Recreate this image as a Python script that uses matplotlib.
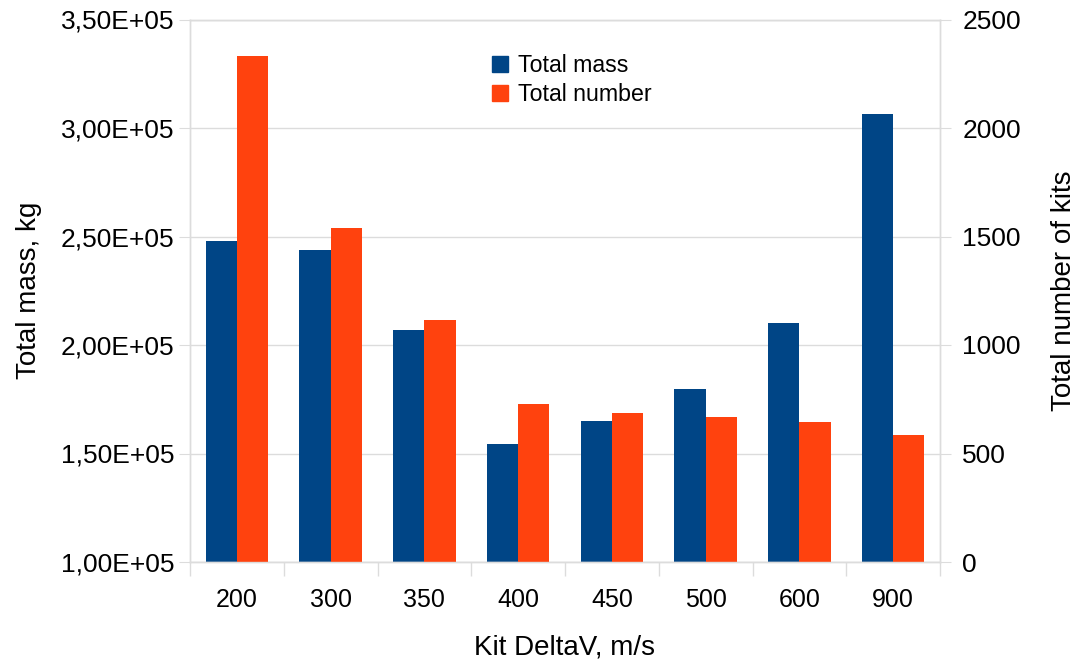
import numpy as np
import matplotlib
matplotlib.use("Agg")
import matplotlib.pyplot as plt
from matplotlib.ticker import FuncFormatter, FixedLocator, MultipleLocator
from matplotlib.patches import Patch

# Kit delta-V categories and totals per category
categories = ["200", "300", "350", "400", "450", "500", "600", "900"]
total_mass = [247800, 243600, 206800, 154600, 164900, 179900, 210300, 306300]
total_number = [2331, 1538, 1115, 727, 685, 668, 644, 587]

BLUE = "#004586"
ORANGE = "#ff420e"
GRID = "#dcdcdc"

plt.rcParams["font.family"] = "Liberation Sans"

fig = plt.figure(figsize=(10.77, 6.64), dpi=100)
ax = fig.add_axes([190 / 1077, 102 / 664, 750 / 1077, 542.5 / 664])
ax2 = ax.twinx()

x = np.arange(len(categories))
w = 1 / 3
ax.bar(x - w / 2, total_mass, width=w, color=BLUE, zorder=2)
ax2.bar(x + w / 2, total_number, width=w, color=ORANGE, zorder=2)

ax.set_xlim(-0.5, len(categories) - 0.5)
ax.set_ylim(1.0e5, 3.5e5)
ax2.set_ylim(0, 2500)

ax.yaxis.set_major_locator(MultipleLocator(0.5e5))
ax.yaxis.set_major_formatter(FuncFormatter(lambda v, p: f"{v:.2E}".replace(".", ",")))
ax2.yaxis.set_major_locator(MultipleLocator(500))

ax.set_axisbelow(True)
ax.grid(axis="y", color=GRID, linewidth=1)

ax.xaxis.set_major_locator(FixedLocator(x))
ax.set_xticklabels(categories, fontsize=18)
ax.xaxis.set_minor_locator(FixedLocator(np.arange(-0.5, len(categories), 1.0)))
ax.tick_params(axis="x", which="major", length=0, pad=19)
ax.tick_params(axis="x", which="minor", length=10, color=GRID, width=1)

ax.tick_params(axis="y", length=8, color=GRID, labelsize=19, pad=3)
ax2.tick_params(axis="y", length=8, color=GRID, labelsize=19, pad=8)

for a in (ax, ax2):
    for s in a.spines.values():
        s.set_color(GRID)
        s.set_linewidth(1)

ax.set_ylabel("Total mass, kg", fontsize=20, labelpad=14)
ax2.set_ylabel("Total number of kits", fontsize=20, labelpad=22)
ax.set_xlabel("Kit DeltaV, m/s", fontsize=20, va="center")
ax.xaxis.set_label_coords(0.5, -0.158)

handles = [Patch(color=BLUE, label="Total mass"), Patch(color=ORANGE, label="Total number")]
fig.legend(handles=handles, loc="upper left", bbox_to_anchor=(492 / 1077, 1 - 54 / 664),
           frameon=False, fontsize=16.7, handlelength=0.7, handleheight=0.7,
           handletextpad=0.4, labelspacing=0.25, borderpad=0, borderaxespad=0)

fig.savefig("out.png", dpi=100, facecolor="white")
